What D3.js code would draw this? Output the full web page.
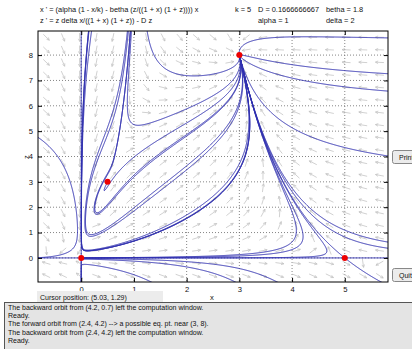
<!DOCTYPE html>
<html><head><meta charset="utf-8">
<script src="https://cdn.jsdelivr.net/npm/d3@7"></script>
<style>
body{margin:0;background:#fff;overflow:hidden;}
text{font-family:"Liberation Sans",Arial,sans-serif;fill:#111;}
</style>
</head><body>
<svg id="c" width="412" height="349"></svg>
<script>
// ---- data ----
const eqLines = ["x ' = (alpha (1 - x/k) - betha (z/((1 + x) (1 + z)))) x",
                 "z ' = z delta x/((1 + x) (1 + z)) - D z"];
const paramNames  = ["k", "D", "alpha", "betha", "delta"];
const paramValues = [5, 0.1666666667, 1, 1.8, 2];
const xTicks = [0, 1, 2, 3, 4, 5];
const zTicks = [0, 1, 2, 3, 4, 5, 6, 7, 8];
const xDomain = [-0.82, 5.82];
const zDomain = [-0.95, 8.95];
const eqX = [0, 5, 3, 0.5];
const eqZ = [0, 0, 8, 3];
// initial points of the computed orbits
const orbitX = [4.5, 5.7, 5.7, 5.7, 1.75, 1.17, 0.14, -0.75, 0.74, 2.25, 2.25, 4.08, 5.7, 5.7, 4.65,
                4.994, 5.006, 2.5, 5.5, -0.4, 0, 0, 1.3, 0.6, 2.25, 2.25, 2.25, 2.88, 2.25, 4.2, 2.4];
const orbitZ = [8.72, 7.28, 6.6, 4.06, 7.3, 5.25, 8.8, 4.65, -0.5, -0.19, -0.46, 1.0, 0.67, 0.42, 0.2,
                0.01, -0.01, 0, 0, 0, 4, -0.5, 0.88, 3.75, 4.07, 5.64, 5.18, 3.08, 2.03, 0.7, 4.2];
const cursorText = "Cursor position:  (5.03, 1.29)";
const messages = [
  "The backward orbit from (4.2, 0.7) left the computation window.",
  "Ready.",
  "The forward orbit from (2.4, 4.2) --> a possible eq. pt. near (3, 8).",
  "The backward orbit from (2.4, 4.2) left the computation window.",
  "Ready."
];

// ---- layout ----
const svg = d3.select("#c");
const L = 38, R = 388, T = 31, B = 282;
const x = d3.scaleLinear().domain(xDomain).range([L, R]);
const z = d3.scaleLinear().domain(zDomain).range([B, T]);
const sx = x(1) - x(0), sz = z(0) - z(1);
const [pk, pD, pal, pbe, pde] = paramValues;

function field(a, b) {
  const q = (1 + a) * (1 + b);
  return [a * (pal * (1 - a / pk) - pbe * b / q), b * (pde * a / q - pD)];
}

// header texts
const fs = 7.4;
svg.append("text").attr("x", 40).attr("y", 12).attr("font-size", fs).text(eqLines[0]);
svg.append("text").attr("x", 40).attr("y", 23).attr("font-size", fs).text(eqLines[1]);
const pPos = [[235, 12], [258, 12], [258, 23], [326, 12], [326, 23]];
paramNames.forEach((nm, i) => {
  svg.append("text").attr("x", pPos[i][0]).attr("y", pPos[i][1]).attr("font-size", fs)
    .text(nm + " = " + paramValues[i]);
});

// clip
svg.append("clipPath").attr("id", "clip").append("rect")
  .attr("x", L).attr("y", T).attr("width", R - L).attr("height", B - T);
const g = svg.append("g").attr("clip-path", "url(#clip)");

// grid
g.selectAll(".gx").data(xTicks).enter().append("line")
  .attr("x1", d => x(d)).attr("x2", d => x(d)).attr("y1", T).attr("y2", B)
  .attr("stroke", "#666").attr("stroke-width", 0.8).attr("stroke-dasharray", "1,2");
g.selectAll(".gz").data(zTicks).enter().append("line")
  .attr("y1", d => z(d)).attr("y2", d => z(d)).attr("x1", L).attr("x2", R)
  .attr("stroke", "#666").attr("stroke-width", 0.8).attr("stroke-dasharray", "1,2");

// direction field
const nCol = 21, nRow = 20, aLen = 8.5;
for (let i = 0; i < nCol; i++) {
  for (let j = 0; j < nRow; j++) {
    const cx = L + (i + 0.5) * (R - L) / nCol, cy = T + (j + 0.5) * (B - T) / nRow;
    const F = field(x.invert(cx), z.invert(cy));
    let u = F[0] * sx, v = -F[1] * sz;
    const s = Math.hypot(u, v);
    if (s < 1e-12) continue;
    u /= s; v /= s;
    const x0 = cx - u * aLen / 2, y0 = cy - v * aLen / 2, x1 = cx + u * aLen / 2, y1 = cy + v * aLen / 2;
    const ang = Math.atan2(v, u), hl = 3, ha = 0.45;
    const p = `M${x0},${y0}L${x1},${y1}M${x1 - hl * Math.cos(ang - ha)},${y1 - hl * Math.sin(ang - ha)}L${x1},${y1}L${x1 - hl * Math.cos(ang + ha)},${y1 - hl * Math.sin(ang + ha)}`;
    g.append("path").attr("d", p).attr("fill", "none").attr("stroke", "#c2c2c2").attr("stroke-width", 0.75);
  }
}

// orbits
function orbit(a0, b0, dir) {
  const G = (a, b) => {
    const F = field(a, b);
    const s = Math.hypot(F[0] * sx, F[1] * sz);
    if (!(s > 1e-10)) return null;
    return [dir * F[0] / s, dir * F[1] / s];
  };
  let p = [a0, b0];
  const pts = [p];
  const h = 0.5;
  for (let n = 0; n < 8000; n++) {
    const k1 = G(p[0], p[1]); if (!k1) break;
    const k2 = G(p[0] + h / 2 * k1[0], p[1] + h / 2 * k1[1]); if (!k2) break;
    const k3 = G(p[0] + h / 2 * k2[0], p[1] + h / 2 * k2[1]); if (!k3) break;
    const k4 = G(p[0] + h * k3[0], p[1] + h * k3[1]); if (!k4) break;
    p = [p[0] + h / 6 * (k1[0] + 2 * k2[0] + 2 * k3[0] + k4[0]),
         p[1] + h / 6 * (k1[1] + 2 * k2[1] + 2 * k3[1] + k4[1])];
    pts.push(p);
    if (p[0] < xDomain[0] - 0.1 || p[0] > xDomain[1] + 0.1 || p[1] < -0.97 || p[1] > zDomain[1] + 0.2) break;
    let hit = false;
    for (let e = 0; e < eqX.length; e++) {
      if (Math.hypot((p[0] - eqX[e]) * sx, (p[1] - eqZ[e]) * sz) < 0.8) { pts.push([eqX[e], eqZ[e]]); hit = true; break; }
    }
    if (hit) break;
    const F = field(p[0], p[1]);
    if (Math.hypot(F[0] * sx, F[1] * sz) < 1e-5) break;
  }
  return pts;
}
const line = d3.line().x(d => x(d[0])).y(d => z(d[1]));
orbitX.forEach((a, i) => {
  const b = orbitZ[i];
  const back = orbit(a, b, -1).reverse();
  const fwd = orbit(a, b, 1);
  const pts = back.concat(fwd.slice(1));
  g.append("path").attr("d", line(pts)).attr("fill", "none")
    .attr("stroke", "#2f2fb0").attr("stroke-width", 1);
});

// equilibria
g.selectAll(".eq").data(eqX).enter().append("circle")
  .attr("cx", d => x(d)).attr("cy", (d, i) => z(eqZ[i])).attr("r", 3).attr("fill", "#ee0000");

// frame & ticks
svg.append("rect").attr("x", L).attr("y", T).attr("width", R - L).attr("height", B - T)
  .attr("fill", "none").attr("stroke", "#000").attr("stroke-width", 1);
const xb = d3.axisBottom(x).tickValues(xTicks).tickSize(-4).tickPadding(5).tickFormat(d3.format("d"));
const xt = d3.axisTop(x).tickValues(xTicks).tickSize(-4).tickFormat("");
const zl = d3.axisLeft(z).tickValues(zTicks).tickSize(-4).tickPadding(5).tickFormat(d3.format("d"));
const zr = d3.axisRight(z).tickValues(zTicks).tickSize(-4).tickFormat("");
[[xb, `translate(0,${B})`], [xt, `translate(0,${T})`], [zl, `translate(${L},0)`], [zr, `translate(${R},0)`]]
  .forEach(([ax, tr]) => {
    const a = svg.append("g").attr("transform", tr).call(ax);
    a.select(".domain").remove();
    a.selectAll("line").attr("stroke", "#000");
    a.selectAll("text").attr("font-size", 7.6).attr("font-family", "Liberation Sans, Arial, sans-serif").attr("fill", "#111");
  });
svg.append("text").attr("x", 212).attr("y", 300).attr("font-size", 7.6).attr("text-anchor", "middle").text("x");
svg.append("text").attr("transform", "translate(29,157) rotate(-90)").attr("font-size", 7.6).attr("text-anchor", "middle").text("z");

// cursor position
svg.append("rect").attr("x", 37).attr("y", 291).attr("width", 126).attr("height", 11).attr("fill", "#ececec");
svg.append("text").attr("x", 40).attr("y", 299.5).attr("font-size", 7).text(cursorText);

// message box
svg.append("rect").attr("x", 4.5).attr("y", 302.5).attr("width", 412).attr("height", 50)
  .attr("fill", "#e4e4e4").attr("stroke", "#555").attr("stroke-width", 1);
messages.forEach((m, i) => {
  svg.append("text").attr("x", 8).attr("y", 309.8 + i * 8.3).attr("font-size", 7).text(m);
});

// buttons
[["Print", 150], ["Quit", 268]].forEach(([t, y0]) => {
  svg.append("rect").attr("x", 392.5).attr("y", y0 + 0.5).attr("width", 30).attr("height", 13).attr("rx", 2)
    .attr("fill", "#ececec").attr("stroke", "#888");
  svg.append("text").attr("x", 399).attr("y", y0 + 9.5).attr("font-size", 7).text(t);
});
</script>
</body></html>
